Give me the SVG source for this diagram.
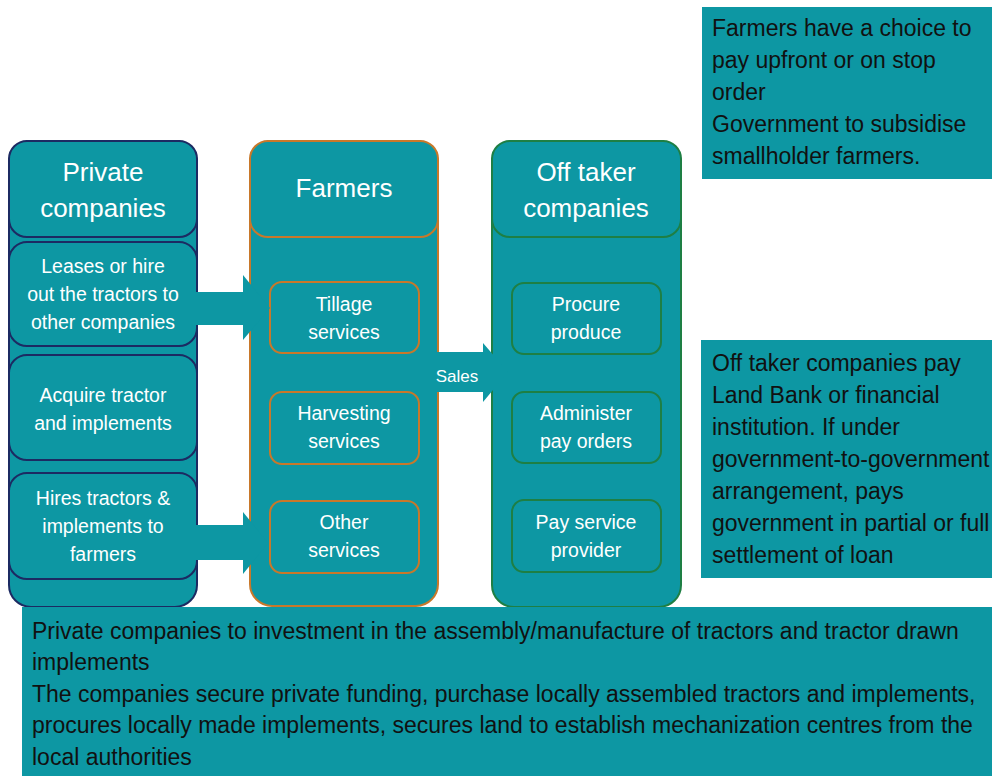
<svg xmlns="http://www.w3.org/2000/svg" width="992" height="776" viewBox="0 0 992 776">
<style>
.fill{fill:#0D97A3}
.pc{stroke:#1C2A62;stroke-width:2}
.fm{stroke:#C8782A;stroke-width:2}
.ot{stroke:#1E7F44;stroke-width:2}
.hd{font-family:"Liberation Sans",Arial,sans-serif;font-size:26px;fill:#fff;text-anchor:middle}
.it{font-family:"Liberation Sans",Arial,sans-serif;font-size:19.5px;fill:#fff;text-anchor:middle}
.nt{font-family:"Liberation Sans",Arial,sans-serif;font-size:23px;fill:#111}
.sl{font-family:"Liberation Sans",Arial,sans-serif;font-size:17px;fill:#fff;text-anchor:middle}
</style>
<defs>
<clipPath id="clipHire"><rect x="0" y="500" width="165" height="60"/></clipPath>
</defs>
<rect width="992" height="776" fill="#fff"/>

<g id="private-companies">
<rect class="fill pc" x="9" y="141" width="188" height="466" rx="22"/>
<rect class="fill pc" x="9" y="141" width="188" height="96" rx="18"/>
<text class="hd" x="103" y="181">Private</text>
<text class="hd" x="103" y="217">companies</text>
</g>
<g id="leases">
<rect class="fill pc" x="9" y="242" width="188" height="104" rx="18"/>
<text class="it" x="103" y="273">Leases or hire</text>
<text class="it" x="103" y="301">out the tractors to</text>
<text class="it" x="103" y="329">other companies</text>
</g>
<g id="acquire">
<rect class="fill pc" x="9" y="355" width="188" height="105" rx="18"/>
<text class="it" x="103" y="402">Acquire tractor</text>
<text class="it" x="103" y="430">and implements</text>
</g>
<g id="hires">
<rect class="fill pc" x="9" y="473" width="188" height="106" rx="18"/>
<text class="it" x="103" y="505">Hires tractors &amp;</text>
<text class="it" x="103" y="533" clip-path="url(#clipHire)">implements to</text>
<text class="it" x="103" y="561">farmers</text>
</g>

<g id="farmers">
<rect class="fill fm" x="250" y="141" width="188" height="465" rx="22"/>
<rect class="fill fm" x="250" y="141" width="188" height="96" rx="18"/>
<text class="hd" x="344" y="197">Farmers</text>
</g>
<g id="tillage">
<rect class="fill fm" x="270" y="282" width="149" height="71" rx="12"/>
<text class="it" x="344" y="311">Tillage</text>
<text class="it" x="344" y="339">services</text>
</g>
<g id="harvesting">
<rect class="fill fm" x="270" y="392" width="149" height="72" rx="12"/>
<text class="it" x="344" y="420">Harvesting</text>
<text class="it" x="344" y="448">services</text>
</g>
<g id="other">
<rect class="fill fm" x="270" y="501" width="149" height="72" rx="12"/>
<text class="it" x="344" y="529">Other</text>
<text class="it" x="344" y="557">services</text>
</g>

<g id="offtaker">
<rect class="fill ot" x="492" y="141" width="189" height="466" rx="22"/>
<rect class="fill ot" x="492" y="141" width="189" height="96" rx="18"/>
<text class="hd" x="586" y="181">Off taker</text>
<text class="hd" x="586" y="217">companies</text>
</g>
<g id="procure">
<rect class="fill ot" x="512" y="283" width="149" height="71" rx="12"/>
<text class="it" x="586" y="311">Procure</text>
<text class="it" x="586" y="339">produce</text>
</g>
<g id="administer">
<rect class="fill ot" x="512" y="392" width="149" height="71" rx="12"/>
<text class="it" x="586" y="420">Administer</text>
<text class="it" x="586" y="448">pay orders</text>
</g>
<g id="payservice">
<rect class="fill ot" x="512" y="500" width="149" height="72" rx="12"/>
<text class="it" x="586" y="529">Pay service</text>
<text class="it" x="586" y="557">provider</text>
</g>

<g id="connectors">
<polygon class="fill" points="196,292 243,292 243,275 270,308 243,340 243,325 196,325"/>
<polygon class="fill" points="165,525 243,525 243,512 268,543 243,574 243,560 165,560"/>
<polygon class="fill" points="437,352 483,352 483,343 508,372 483,402 483,392 437,392"/>
<text class="sl" x="457" y="382">Sales</text>
</g>

<g id="note-top">
<rect class="fill" x="702" y="7" width="290" height="172"/>
<text class="nt" x="712" y="36">Farmers have a choice to</text>
<text class="nt" x="712" y="68">pay upfront or on stop</text>
<text class="nt" x="712" y="100">order</text>
<text class="nt" x="712" y="132">Government to subsidise</text>
<text class="nt" x="712" y="164">smallholder farmers.</text>
</g>

<g id="note-right">
<rect class="fill" x="701" y="340" width="291" height="238"/>
<text class="nt" x="712" y="371">Off taker companies pay</text>
<text class="nt" x="712" y="403">Land Bank or financial</text>
<text class="nt" x="712" y="435">institution. If under</text>
<text class="nt" x="712" y="467">government-to-government</text>
<text class="nt" x="712" y="499">arrangement, pays</text>
<text class="nt" x="712" y="531">government in partial or full</text>
<text class="nt" x="712" y="563">settlement of loan</text>
</g>

<g id="note-bottom">
<rect class="fill" x="22" y="607" width="970" height="169"/>
<text class="nt" x="32" y="639">Private companies to investment in the assembly/manufacture of tractors and tractor drawn</text>
<text class="nt" x="32" y="670">implements</text>
<text class="nt" x="32" y="702">The companies secure private funding, purchase locally assembled tractors and implements,</text>
<text class="nt" x="32" y="733">procures locally made implements, secures land to establish mechanization centres from the</text>
<text class="nt" x="32" y="765">local authorities</text>
</g>
</svg>
